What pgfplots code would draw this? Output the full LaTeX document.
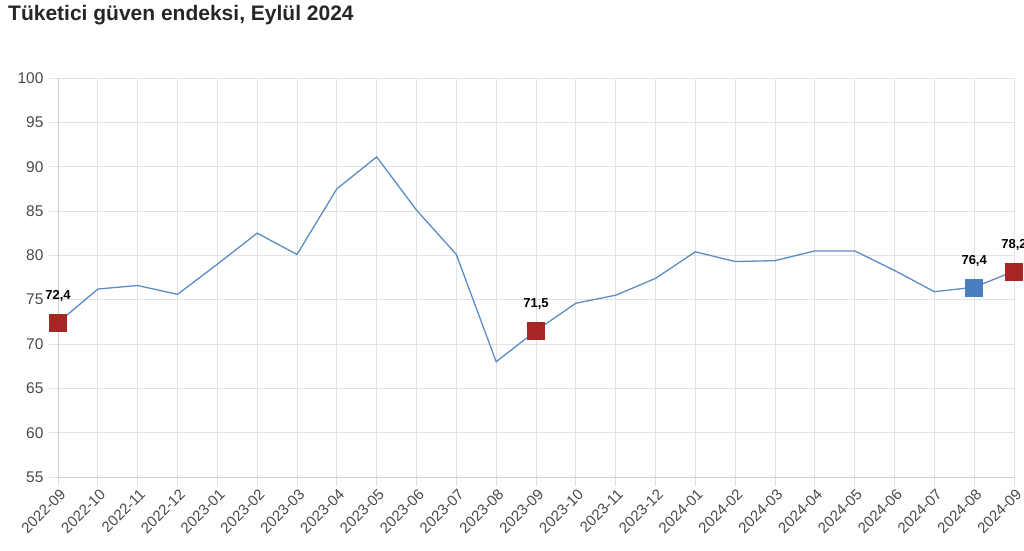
\documentclass[border=0pt]{standalone}
\usepackage{pgfplots}
\pgfplotsset{compat=1.18}
\usepackage{fontspec}
\setmainfont{Liberation Sans}
\definecolor{linec}{HTML}{5B8CC4}
\definecolor{redm}{HTML}{A52622}
\definecolor{bluem}{HTML}{4A7EBE}
\definecolor{gridc}{HTML}{E2E2E2}
\definecolor{axc}{HTML}{CFCFCF}
\definecolor{tickc}{HTML}{4A4A4A}
\begin{document}
\begin{tikzpicture}
\useasboundingbox (0,0) rectangle (1024pt,550pt);
\node[anchor=base west, text=black!85, inner sep=0pt] at (8pt,529pt) {\fontsize{21}{24}\selectfont\bfseries Tüketici güven endeksi, Eylül 2024};
\begin{axis}[
  at={(58pt,73pt)}, anchor=south west,
  scale only axis, width=956pt, height=399pt,
  xmin=0, xmax=24, ymin=55, ymax=100,
  ytick={55,60,...,100},
  xtick={0,...,24},
  xticklabels={2022-09,2022-10,2022-11,2022-12,2023-01,2023-02,2023-03,2023-04,2023-05,2023-06,2023-07,2023-08,2023-09,2023-10,2023-11,2023-12,2024-01,2024-02,2024-03,2024-04,2024-05,2024-06,2024-07,2024-08,2024-09},
  xticklabel style={rotate=45, anchor=north east, font=\fontsize{15}{17}\selectfont, text=tickc, inner sep=2pt, xshift=1.5pt},
  yticklabel style={font=\fontsize{15.5}{17}\selectfont, text=tickc, xshift=-2pt},
  /pgf/number format/assume math mode=true,
  grid=major,
  major grid style={gridc, line width=0.9pt},
  axis line style={axc, line width=1pt},
  axis x line*=bottom, axis y line*=left,
  tick style={gridc, line width=0.9pt},
  tick align=outside,
  major tick length=9pt,
  clip=false,
]
\addplot[linec, line width=1.3pt, mark=none] coordinates {
(0,72.4) (1,76.2) (2,76.6) (3,75.6) (4,79.0) (5,82.5) (6,80.1) (7,87.5) (8,91.1) (9,85.1) (10,80.1) (11,68.0) (12,71.5) (13,74.6) (14,75.5) (15,77.4) (16,80.4) (17,79.3) (18,79.4) (19,80.5) (20,80.5) (21,78.3) (22,75.9) (23,76.4) (24,78.2)
};
\addplot[only marks, mark=square*, mark size=8.5pt, mark options={fill=redm, draw=redm},
  nodes near coords={\pgfmathprintnumber[fixed,precision=1,use comma,fixed zerofill]{\pgfplotspointmeta}},
  every node near coord/.append style={anchor=base, inner sep=0pt, yshift=23pt, font=\fontsize{13}{15}\selectfont\bfseries, text=black}
] coordinates {(0,72.4) (12,71.5) (24,78.2)};
\addplot[only marks, mark=square*, mark size=8.5pt, mark options={fill=bluem, draw=bluem},
  nodes near coords={\pgfmathprintnumber[fixed,precision=1,use comma,fixed zerofill]{\pgfplotspointmeta}},
  every node near coord/.append style={anchor=base, inner sep=0pt, yshift=23pt, font=\fontsize{13}{15}\selectfont\bfseries, text=black}
] coordinates {(23,76.4)};
\end{axis}
\end{tikzpicture}
\end{document}
